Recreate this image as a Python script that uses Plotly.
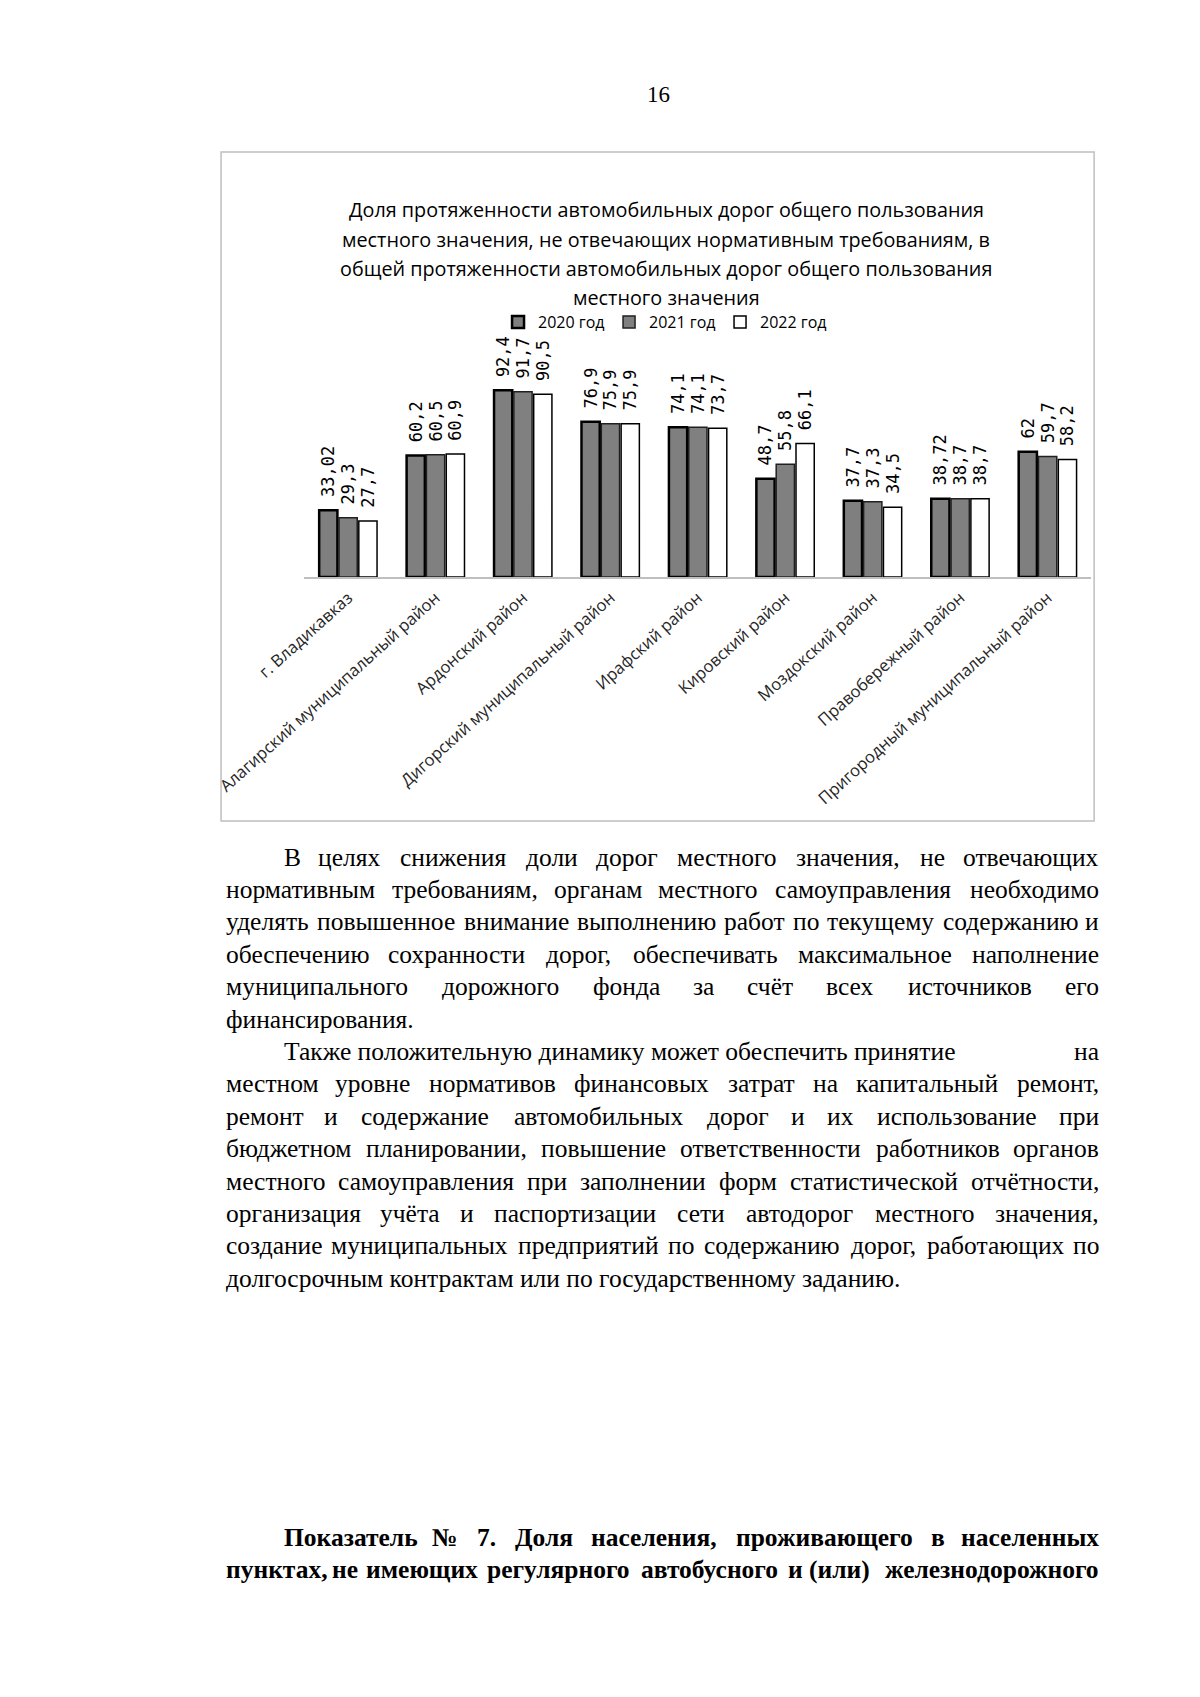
import plotly.graph_objects as go

W, H = 1200, 1697

categories = ["г. Владикавказ", "Алагирский муниципальный район", "Ардонский район",
              "Дигорский муниципальный район", "Ирафский район", "Кировский район",
              "Моздокский район", "Правобережный район", "Пригородный муниципальный район"]
series_names = ["2020 год", "2021 год", "2022 год"]
values_2020 = [33.02, 60.2, 92.4, 76.9, 74.1, 48.7, 37.7, 38.72, 62]
values_2021 = [29.3, 60.5, 91.7, 75.9, 74.1, 55.8, 37.3, 38.7, 59.7]
values_2022 = [27.7, 60.9, 90.5, 75.9, 73.7, 66.1, 34.5, 38.7, 58.2]

title_lines = ["Доля протяженности автомобильных дорог общего пользования",
               "местного значения, не отвечающих нормативным требованиям, в",
               "общей протяженности автомобильных дорог общего пользования",
               "местного значения"]

page_number = "16"

# (text, mode) mode: 'j' justified, 'ji' justified with indent, 'l' left, 'split' special
body_lines = [
    ("В целях снижения доли дорог местного значения, не отвечающих", "ji"),
    ("нормативным требованиям, органам местного самоуправления необходимо", "j"),
    ("уделять повышенное внимание выполнению работ по текущему содержанию и", "j"),
    ("обеспечению сохранности дорог, обеспечивать максимальное наполнение", "j"),
    ("муниципального дорожного фонда за счёт всех источников его", "j"),
    ("финансирования.", "l"),
    ("Также положительную динамику может обеспечить принятие|на", "split"),
    ("местном уровне нормативов финансовых затрат на капитальный ремонт,", "j"),
    ("ремонт и содержание автомобильных дорог и их использование при", "j"),
    ("бюджетном планировании, повышение ответственности работников органов", "j"),
    ("местного самоуправления при заполнении форм статистической отчётности,", "j"),
    ("организация учёта и паспортизации сети автодорог местного значения,", "j"),
    ("создание муниципальных предприятий по содержанию дорог, работающих по", "j"),
    ("долгосрочным контрактам или по государственному заданию.", "l"),
]
bold_lines = [
    ("Показатель № 7. Доля населения, проживающего в населенных", "ji"),
    ("пунктах, не имеющих регулярного автобусного и (или) железнодорожного", "j"),
]


def fmt(v):
    return "\u00a0" + f"{v:g}".replace(".", ",")


def px(x):
    return x / W


def py(y):
    return 1 - y / H


fig = go.Figure()
styles = [
    dict(color="#7f7f7f", line=dict(color="#000000", width=2.5)),
    dict(color="#808080", line=dict(color="#202020", width=1.5)),
    dict(color="#ffffff", line=dict(color="#000000", width=1.5)),
]
for name, vals, st in zip(series_names, [values_2020, values_2021, values_2022], styles):
    fig.add_trace(go.Bar(
        x=categories, y=vals, name=name,
        text=[fmt(v) for v in vals], textposition="outside", textangle=-90,
        textfont=dict(family="DejaVu Sans Mono", size=17, color="#000000"),
        constraintext="none", cliponaxis=False,
        marker=dict(color=st["color"], line=st["line"]),
    ))

# plot area in pixels
X0, X1 = 224, 1074
Y_TOP, Y_BOT = 367, 569

fig.update_layout(
    width=W, height=H,
    margin=dict(l=0, r=0, t=0, b=0),
    paper_bgcolor="white", plot_bgcolor="white",
    barmode="group", bargap=0.32, bargroupgap=0.08,
    showlegend=True,
    legend=dict(orientation="h", x=px(613), xanchor="center", y=py(314), yanchor="middle",
                font=dict(family="Open Sans", size=16, color="#000000"),
                itemwidth=30, entrywidth=66, entrywidthmode="pixels",
                bgcolor="rgba(0,0,0,0)", traceorder="normal"),
    xaxis=dict(domain=[px(X0), px(X1)], showline=True, linecolor="#bfbfbf", linewidth=1.5,
               showgrid=False, ticks="", tickangle=-42, ticklabelstandoff=3,
               tickfont=dict(family="Open Sans", size=16.6, color="#262626")),
    yaxis=dict(domain=[py(Y_BOT), py(Y_TOP)], range=[0, 100], visible=False),
)

# chart frame
fig.add_shape(type="rect", xref="paper", yref="paper",
              x0=px(134), x1=px(1077), y0=py(813), y1=py(144),
              line=dict(color="#bfbfbf", width=1.5), fillcolor="rgba(0,0,0,0)", layer="below")

ann = []
for i, t in enumerate(title_lines):
    ann.append(dict(text=t, x=px(615), y=py(202 + i * 29.2), xref="paper", yref="paper",
                    xanchor="center", yanchor="middle", showarrow=False,
                    font=dict(family="Open Sans", size=19.8, color="#000000")))
ann.append(dict(text=page_number, x=px(607), y=py(86), xref="paper", yref="paper",
                xanchor="center", yanchor="middle", showarrow=False,
                font=dict(family="Liberation Serif", size=23, color="#000000")))

# rough Times widths (em)
WID = {" ": .25, ",": .25, ".": .25, "(": .333, ")": .333, "№": 1.0,
       "а": .444, "б": .509, "в": .472, "г": .41, "д": .509, "е": .444, "ё": .444, "ж": .691,
       "з": .395, "и": .535, "й": .535, "к": .486, "л": .499, "м": .633, "н": .535, "о": .5,
       "п": .535, "р": .5, "с": .444, "т": .437, "у": .5, "ф": .648, "х": .5, "ц": .535,
       "ч": .503, "ш": .77, "щ": .77, "ъ": .517, "ы": .672, "ь": .456, "э": .429, "ю": .747,
       "я": .484}


def tw(s, size, bold):
    w = 0
    for ch in s:
        if ch in WID:
            w += WID[ch]
        elif ch.isdigit():
            w += .5
        elif ch.isupper():
            w += .68
        else:
            w += .5
    return w * size * (1.16 if bold else 1.09)


L, R, IND = 137, 1084, 200
SIZE, BSIZE = 25.5, 25.5


def add_line(text, mode, y, bold=False):
    size = BSIZE if bold else SIZE
    font = dict(family="Liberation Serif", size=size, color="#000000")
    wrap = (lambda s: "<b>" + s + "</b>") if bold else (lambda s: s)
    if mode == "l":
        ann.append(dict(text=wrap(text), x=px(L), y=py(y),
                        xref="paper", yref="paper", xanchor="left", yanchor="middle",
                        showarrow=False, font=font))
        return
    if mode == "split":
        a, b = text.split("|")
        ann.append(dict(text=wrap(a), x=px(IND), y=py(y), xref="paper", yref="paper",
                        xanchor="left", yanchor="middle", showarrow=False, font=font))
        ann.append(dict(text=wrap(b), x=px(R), y=py(y), xref="paper", yref="paper",
                        xanchor="right", yanchor="middle", showarrow=False, font=font))
        return
    x0 = IND if mode == "ji" else L
    words = text.split(" ")
    ws = [tw(w, size, bold) for w in words]
    gap = (R - x0 - sum(ws)) / (len(words) - 1)
    cum = x0
    for i, (w, wd) in enumerate(zip(words, ws)):
        if i == 0:
            x, anc = x0, "left"
        elif i == len(words) - 1:
            x, anc = R, "right"
        else:
            x, anc = cum + wd / 2, "center"
        ann.append(dict(text=wrap(w), x=px(x), y=py(y), xref="paper", yref="paper",
                        xanchor=anc, yanchor="middle", showarrow=False, font=font))
        cum += wd + gap


for i, (t, m) in enumerate(body_lines):
    add_line(t, m, 849 + i * 32.4)
for i, (t, m) in enumerate(bold_lines):
    add_line(t, m, 1529 + i * 32.4, bold=True)

fig.update_layout(annotations=ann)
fig.write_html("out.html")
